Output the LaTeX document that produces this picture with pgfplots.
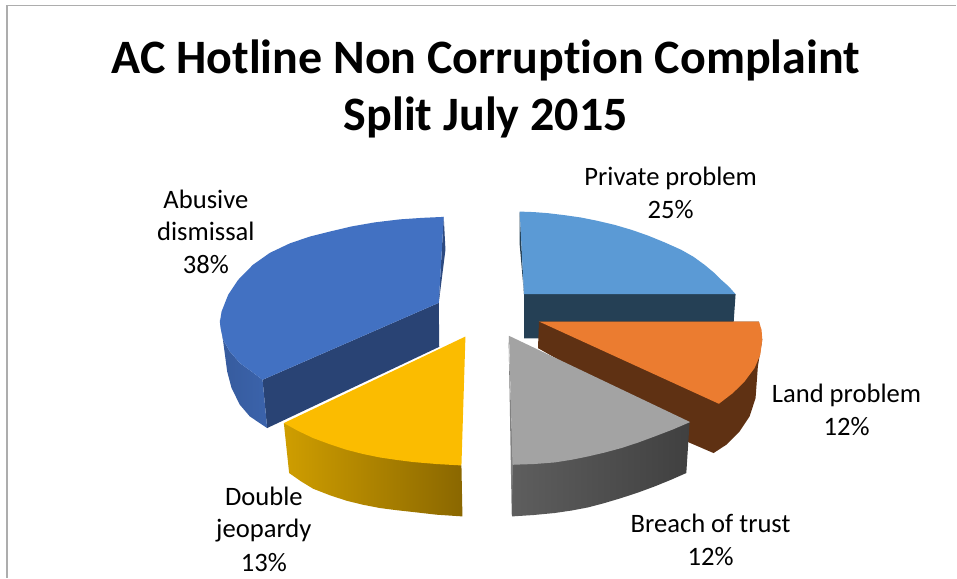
\documentclass[border=0pt]{standalone}
\usepackage{pgfplots}
\pgfplotsset{compat=1.18}
\usepackage{fontspec}
\setmainfont[Ligatures=CommonOff]{Carlito}
\definecolor{bluetop}{HTML}{4271C2}
\definecolor{bluedark}{HTML}{294374}
\definecolor{bluerim}{HTML}{3B63AB}
\definecolor{lbtop}{HTML}{5B9AD5}
\definecolor{lbdark}{HTML}{254055}
\definecolor{ortop}{HTML}{EB7C30}
\definecolor{ordark}{HTML}{5F3113}
\definecolor{grtop}{HTML}{A3A3A3}
\definecolor{yetop}{HTML}{FBBC00}
\definecolor{yeleft}{HTML}{CF9E00}
\definecolor{yeright}{HTML}{8A6700}
\definecolor{gleft}{HTML}{5E5E5E}
\definecolor{gmid}{HTML}{464646}
\definecolor{gright}{HTML}{404040}
\begin{document}
\begin{tikzpicture}
\begin{axis}[hide axis,scale only axis,width=957pt,height=578pt,
  xmin=0,xmax=957,ymin=0,ymax=578,y dir=reverse,clip=false]
\path (axis cs:0,0) rectangle (axis cs:957,578);
% frame
\addplot[draw=black!32,line width=2pt] coordinates {(7,578) (7,5)};
\addplot[draw=black!32,line width=1.1pt] coordinates {(6,5.5) (957,5.5)};
% light blue: Private problem 25%
\addplot[fill=lbdark,draw=none] coordinates {(520,212) (520,245) (524.3,294) (524.3,338.5) (539,338.5) (733,338) (736,294.3) (524.3,294.3)} -- cycle;
\addplot[fill=lbtop,draw=none] coordinates {(520,211.7) (524.3,294.3) (736,294.3) (729,286.5) (721.7,280) (714,272.5) (705,265) (694,257) (681.7,250) (665,242.5) (648.3,235.7) (632,230) (615,225) (598,221) (581.7,217.7) (565,215.3) (548.3,213.3) (534,212.2)} -- cycle;
% orange: Land problem 12%
\addplot[fill=ordark,draw=none] coordinates {(539.3,321.7) (538.3,348.3) (580,372) (690,443) (714,453.3) (726.7,445) (740,431.7) (750,416.7) (756,398.3) (758.3,366.7) (762.7,340) (759.3,321.7)} -- cycle;
\addplot[fill=ortop,draw=none] coordinates {(539.3,321.7) (759.3,321.7) (762,330) (762.7,340) (760.7,355) (755,368.3) (745,381.7) (733.3,393.3) (719.3,404)} -- cycle;
% grey: Breach of trust 12%
\addplot[left color=gleft,middle color=gmid,right color=gright,draw=none] coordinates {(512.3,465) (690,422.3) (686.7,473.3) (671,480.2) (655,486.7) (638.5,492.8) (621.7,498.3) (605,503.3) (588.3,507.7) (572,510.8) (555,513.3) (534,515.3) (512.3,516.7)} -- cycle;
\addplot[fill=black!50,draw=none] coordinates {(508.8,336) (513.3,465) (512,516) (510,400)} -- cycle;
\addplot[fill=grtop,draw=none] coordinates {(509.3,336) (690.5,422.3) (673,429.8) (655,436.7) (638.5,442.8) (621.7,448.3) (605,452.8) (588.3,456.7) (572,460) (555,462.7) (534,464.3) (512.8,465)} -- cycle;
% yellow: Double jeopardy 13%
\addplot[left color=yeleft,right color=yeright,draw=none] coordinates {(284,423.3) (461.7,465.7) (462.7,516.7) (437,515) (413.3,512.3) (397,510.5) (380,508.3) (363,505) (346.7,501) (330,495.5) (313.3,489) (301,481.5) (289.3,473.3)} -- cycle;
\addplot[fill=yetop,draw=none] coordinates {(465.7,336.7) (284,423.3) (298,431) (313.3,438.3) (330,444.5) (346.7,450) (363,454.2) (380,457.7) (397,460.2) (413.3,462.3) (437,464.3) (461.7,465.7)} -- cycle;
% dark blue: Abusive dismissal 38%
\addplot[fill=bluedark,draw=none] coordinates {(262.7,380) (439,303) (439.5,347) (267.3,428.3)} -- cycle;
\addplot[fill=bluedark!85!bluetop,draw=none] coordinates {(444,217) (445.7,250) (439,303)} -- cycle;
\addplot[left color=bluerim!92!black,right color=bluerim,draw=none] coordinates {(220,320) (223.3,341.7) (227.3,371.7) (231.7,388.3) (240,405) (250,416.7) (267.3,428.3) (262.7,380) (251.7,371.7) (240,363.3) (230,351.7) (223.3,340)} -- cycle;
\addplot[fill=bluetop,draw=none] coordinates {(439,303) (262.7,380) (251.7,371.7) (240,363.3) (230,351.7) (223.3,340) (220.7,328.3) (220,322) (221.7,311.7) (228.3,295) (238.3,280) (253,265) (270,253) (290,243.5) (310,236.7) (330,231.7) (352,226.5) (375,222.5) (400,219.5) (422,218) (444,217)} -- cycle;
% labels
\node[anchor=base,font=\fontsize{48}{48}\selectfont\bfseries] at (axis cs:486,74) {AC Hotline Non Corruption Complaint};
\node[anchor=base,font=\fontsize{48}{48}\selectfont\bfseries] at (axis cs:486,131) {Split July 2015};
\tikzset{lab/.style={anchor=base,font=\fontsize{26.6}{26.6}\selectfont,text=black}}
\node[lab] at (axis cs:671,186) {Private problem};
\node[lab] at (axis cs:671,219) {25\%};
\node[lab] at (axis cs:847,403) {Land problem};
\node[lab] at (axis cs:847,436) {12\%};
\node[lab] at (axis cs:711,533) {Breach of trust};
\node[lab] at (axis cs:711,566) {12\%};
\node[lab] at (axis cs:264,506) {Double};
\node[lab] at (axis cs:264,538) {jeopardy};
\node[lab] at (axis cs:264,571.5) {13\%};
\node[lab] at (axis cs:206,209) {Abusive};
\node[lab] at (axis cs:206,241) {dismissal};
\node[lab] at (axis cs:206,274) {38\%};
\end{axis}
\end{tikzpicture}
\end{document}
